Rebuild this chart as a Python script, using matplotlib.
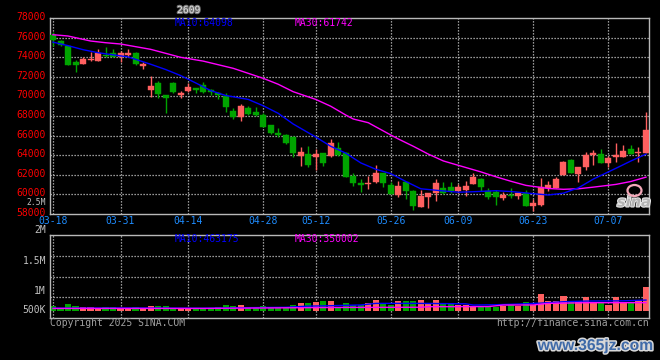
import matplotlib
matplotlib.use('Agg')
import matplotlib.pyplot as plt
import matplotlib.patheffects as pe
from matplotlib.patches import Ellipse
from matplotlib.transforms import ScaledTranslation
import numpy as np

# ---------------- data ----------------
contract = "2609"
tick_idx = [0, 9, 18, 28, 35, 45, 54, 64, 74]
tick_labels = ["03-18", "03-31", "04-14", "04-28", "05-12", "05-26", "06-09", "06-23", "07-07"]

opens = [76290, 75680, 75160, 73530, 73350, 73700, 73650, 74250, 74480, 74070,
         74210, 74480, 73120, 70670, 71410, 70150, 71350, 70150, 70560, 70900,
         71170, 70660, 70390, 70050, 68550, 67930, 68780, 68370, 68100, 67080,
         66230, 66050, 65880, 63940, 64110, 63770, 64250, 63900, 64690, 64180,
         61860, 61180, 61000, 61280, 62200, 60940, 59910, 61280, 60360, 58720,
         59740, 60150, 60600, 60770, 60360, 60430, 61040, 61520, 60360, 60250,
         59640, 59910, 59810, 60080, 58790, 58890, 60600, 60600, 61960, 63500,
         62060, 62810, 63970, 64110, 63160, 63840, 63840, 64620, 64180, 64250]
highs = [76570, 75750, 75200, 73730, 74000, 74550, 74860, 75090, 74860, 74680,
         74860, 74600, 73560, 72100, 71610, 70150, 71480, 70560, 71350, 70900,
         71510, 70760, 70490, 70320, 68780, 69190, 69020, 68890, 68270, 67080,
         66740, 66160, 65950, 64860, 64930, 64590, 64250, 65610, 65370, 64350,
         62130, 61520, 61860, 62980, 62200, 61280, 61380, 61280, 60430, 60430,
         60150, 61520, 61280, 61280, 61040, 61380, 62200, 61620, 60600, 60430,
         60250, 60600, 60250, 60430, 59470, 61620, 61350, 61790, 63430, 63560,
         62810, 64350, 64520, 64590, 63910, 65200, 65030, 65030, 64860, 68440]
lows = [75200, 75150, 73200, 72540, 73350, 73650, 73650, 74000, 74000, 73560,
        74070, 73220, 72840, 69980, 69880, 68330, 70350, 69880, 70490, 70320,
        70320, 70150, 69700, 68440, 67730, 67520, 68100, 68030, 66840, 66200,
        65880, 65100, 63840, 62920, 62750, 62470, 62880, 63770, 63900, 61790,
        60870, 60250, 60490, 61180, 60770, 60000, 59670, 59470, 58380, 58720,
        58550, 59330, 60020, 60080, 60150, 59810, 61040, 60360, 59470, 58890,
        59400, 59570, 59470, 58790, 58310, 58790, 60360, 60600, 61960, 62130,
        61280, 62470, 62980, 63220, 62810, 63330, 63840, 64110, 63330, 64180]
closes = [75780, 75250, 73250, 73250, 73800, 73850, 74480, 74150, 74010, 74420,
          74480, 73320, 73290, 71070, 70250, 69840, 70430, 70320, 70940, 70660,
          70490, 70420, 70110, 68950, 67860, 69020, 68200, 68140, 66910, 66230,
          66050, 65200, 64180, 64350, 62980, 64110, 63220, 65270, 64010, 61790,
          61180, 60900, 61180, 62200, 61180, 60020, 60840, 60360, 58790, 59850,
          60080, 61180, 60080, 60320, 60770, 60840, 61790, 60770, 59670, 59740,
          59910, 59810, 60080, 58790, 59130, 60770, 60940, 61520, 63330, 62130,
          62810, 64010, 64180, 63220, 63740, 64010, 64450, 64110, 64350, 66570]
volumes = [203, 101, 290, 203, 145, 145, 116, 145, 145, 101,
           101, 145, 101, 203, 203, 203, 101, 101, 101, 58,
           58, 72, 145, 246, 203, 246, 101, 101, 203, 101,
           145, 145, 246, 348, 319, 377, 420, 435, 145, 319,
           246, 246, 319, 464, 319, 246, 420, 420, 420, 464,
           319, 464, 319, 290, 246, 246, 145, 145, 174, 145,
           203, 246, 203, 377, 246, 725, 420, 420, 638, 420,
           420, 580, 377, 377, 246, 580, 377, 319, 464, 1044]  # thousands

ma10_idx = [0, 2, 4, 6, 8, 10, 13, 15, 17, 19, 21, 23, 26, 28, 30, 32, 35, 37, 39,
            41, 43, 45, 47, 49, 52, 54, 56, 59, 61, 64, 66, 68, 70, 72, 75, 77, 79]
ma10_val = [75560, 75200, 74790, 74478, 74260, 74050, 73300, 72760, 72140, 71390,
            70600, 70100, 69700, 69050, 68276, 67180, 65850, 64900, 64200, 63200,
            62550, 62100, 61300, 60550, 60330, 60200, 60250, 60354, 60270, 60050,
            59914, 60100, 60650, 61550, 62650, 63400, 64098]
ma30_idx = [0, 2, 5, 7, 9, 13, 15, 17, 20, 24, 28, 30, 32, 35, 37, 39, 40, 42, 45, 46,
            48, 50, 52, 54, 57, 59, 61, 63, 66, 68, 70, 72, 75, 77, 79]
ma30_val = [76320, 76187, 75676, 75502, 75369, 74826, 74417, 74008, 73620, 72882,
            71858, 71250, 70487, 69700, 69000, 68100, 67693, 67314, 66055, 65650,
            64900, 64100, 63400, 62950, 62280, 61780, 61320, 60900, 60580, 60497,
            60550, 60720, 61000, 61300, 61742]

vma10_idx = [0, 10, 20, 28, 31, 34, 37, 41, 43, 49, 55, 56, 59, 62, 65, 68, 71, 76, 79]
vma10_val = [110, 120, 110, 140, 150, 200, 217, 250, 319, 319, 300, 246, 260, 290, 330, 391, 420, 430, 463]
vma30_idx = [0, 20, 37, 49, 50, 58, 60, 64, 66, 71, 79]
vma30_val = [100, 100, 140, 150, 174, 180, 246, 250, 319, 348, 350]

price_ticks = [58000, 60000, 62000, 64000, 66000, 68000, 70000, 72000, 74000, 76000, 78000]
vol_labels = ["2M", "1.5M", "1M", "500K"]

# ---------------- style ----------------
W, H = 660, 360
RED = '#ff6060'
GREEN = '#00a400'
GRID = '#c8c8c8'
BORDER = '#b8b8b8'
MONO = 'DejaVu Sans Mono'
FS = 7

fig = plt.figure(figsize=(W / 100, H / 100), dpi=100, facecolor='black')

def ax_rect(x0, y0, x1, y1):
    return [x0 / W, 1 - y1 / H, (x1 - x0) / W, (y1 - y0) / H]

def ftext(x, y, s, **kw):
    kw.setdefault('family', MONO)
    kw.setdefault('fontsize', FS)
    kw.setdefault('va', 'center')
    return fig.text(x / W, 1 - y / H, s, **kw)

axp = fig.add_axes(ax_rect(50, 18.3, 649.3, 213.7))
axv = fig.add_axes(ax_rect(50, 234.7, 649.3, 318.3))

n = len(closes)
xs = np.arange(n)
XLIM = (-0.4, 79.44)

for ax in (axp, axv):
    ax.set_facecolor('black')
    ax.set_xlim(*XLIM)
    for sp in ax.spines.values():
        sp.set_color(BORDER)
        sp.set_linewidth(1.0)
    ax.tick_params(length=0)
    for t in tick_idx:
        ax.axvline(t, color=GRID, lw=0.9, ls=(0, (1.0, 1.4)), zorder=0)

# ---- price panel ----
axp.set_ylim(58000, 78000)
for p in price_ticks[1:-1]:
    axp.axhline(p, color=GRID, lw=0.9, ls=(0, (1.0, 1.4)), zorder=0)

bw = 0.8
for i in range(n):
    o, h, l, c = opens[i], highs[i], lows[i], closes[i]
    col = RED if c >= o else GREEN
    axp.vlines(xs[i], l, h, color=col, lw=1.0, zorder=2)
    lo, hi = min(o, c), max(o, c)
    if hi - lo < 60:
        hi = lo + 60
    axp.add_patch(plt.Rectangle((xs[i] - bw / 2, lo), bw, hi - lo,
                                facecolor=col, edgecolor=col, lw=0.3, zorder=3))

axp.plot(ma30_idx, ma30_val, color='#ff00ff', lw=1.0, zorder=4)
axp.plot(ma10_idx, ma10_val, color='#0000ff', lw=1.0, zorder=4)

axp.set_yticks(price_ticks)
axp.set_yticklabels([str(p) for p in price_ticks], family=MONO, fontsize=FS, color='#ff0000')
axp.tick_params(axis='y', pad=3)
for lab in axp.get_yticklabels():
    lab.set_transform(lab.get_transform() + ScaledTranslation(0, 2 / 100, fig.dpi_scale_trans))

axp.set_xticks(tick_idx)
axp.set_xticklabels(tick_labels, family=MONO, fontsize=FS, color='#1e8cff')
axp.tick_params(axis='x', pad=2)

# ---- volume panel ----
vmin, vmax = -330, 3306
axv.set_ylim(vmin, vmax)
for f in (0.25, 0.5, 0.75):
    axv.axhline(vmin + f * (vmax - vmin), color=GRID, lw=0.9, ls=(0, (1.0, 1.4)), zorder=0)
vcols = [RED if closes[i] >= opens[i] else GREEN for i in range(n)]
axv.bar(xs, volumes, width=0.82, color=vcols, zorder=2)
axv.plot(vma10_idx, vma10_val, color='#0000ff', lw=1.0, zorder=4)
axv.plot(vma30_idx, vma30_val, color='#ff00ff', lw=1.0, zorder=4)
axv.set_yticks([])
axv.set_xticks([])

# ---- texts ----
ftext(177, 10, contract, color='#e0e0e0',
      path_effects=[pe.withStroke(linewidth=1.5, foreground='#707070')])
ftext(175, 23.5, "MA10:%d" % ma10_val[-1], color='#0000ff')
ftext(295, 23.5, "MA30:%d" % ma30_val[-1], color='#ff00ff')
ftext(46, 202.3, "2.5M", color='#c0c0c0', ha='right', fontsize=5.8)

ftext(175, 238.5, "MA10:463175", color='#0000ff')
ftext(295, 238.5, "MA30:350002", color='#ff00ff')
for lab, yy in zip(vol_labels, [230, 260.5, 290.5, 310]):
    ftext(46, yy, lab, color='#c0c0c0', ha='right')

ftext(50, 323.5, "Copyright 2025 SINA.COM", color='#a0a0a0')
ftext(649, 323.5, "http://finance.sina.com.cn", color='#a0a0a0', ha='right')

# sina logo (eye + word)
fig.patches.append(Ellipse((634.5 / W, 1 - 190.5 / H), 14 / W, 11 / H,
                           transform=fig.transFigure, fill=False,
                           edgecolor='#f4a8b8', lw=1.6, zorder=5))
ftext(634, 202, "sina", family='DejaVu Sans', fontsize=10.5, fontweight='bold',
      style='italic', color='#b4b4b4', ha='center',
      path_effects=[pe.withStroke(linewidth=1.5, foreground='#e8e8e8')])

ftext(596, 345.5, "www.365jz.com", family='Liberation Sans', fontsize=11.3, fontweight='bold',
      color='#3f6aa8', ha='center',
      path_effects=[pe.withStroke(linewidth=2.2, foreground='#d8d8d8')])

fig.savefig('out.png', dpi=100, facecolor='black')
